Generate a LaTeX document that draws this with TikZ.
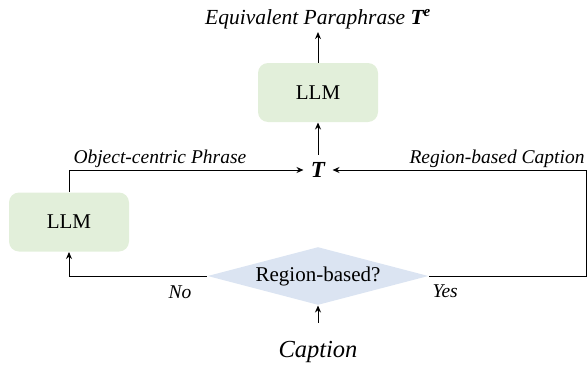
\documentclass[tikz,border=0pt]{standalone}
\usepackage{fontspec}
\setmainfont{Liberation Serif}
\usepackage{xcolor}
\usetikzlibrary{shapes.geometric,arrows.meta,positioning}

\definecolor{llmgreen}{RGB}{226,239,218}
\definecolor{askblue}{RGB}{219,228,242}

\begin{document}
\begin{tikzpicture}[x=1pt,y=-1pt,
    >={Stealth[length=7pt,width=6pt]},
    every path/.style={line width=1pt},
    llmbox/.style={rectangle, rounded corners=10pt, fill=llmgreen,
        minimum width=120pt, minimum height=59pt, font=\fontsize{21}{24}\selectfont},
    askbox/.style={diamond, aspect=3.8, inner sep=0pt, fill=askblue,
        minimum width=221pt, minimum height=58pt, font=\fontsize{21}{24}\selectfont},
    lab/.style={font=\itshape\fontsize{19.5}{22}\selectfont, inner sep=0pt},
    biglab/.style={font=\itshape\fontsize{21.5}{25}\selectfont}]
\useasboundingbox (0,0) rectangle (587,367);

% Boxes
\node[llmbox] (llmtop) at (318,92.5) {LLM};
\node[llmbox] (llmleft) at (69,222) {LLM};
\node[askbox] (ask) at (318,276) {Region-based?};

% Texts
\node[font=\bfseries\itshape\fontsize{23}{26}\selectfont, inner sep=7pt] (t) at (318,170) {T};
\node[biglab, inner sep=3pt, anchor=base] (para) at (318,24) {Equivalent Paraphrase \textbf{T\textsuperscript{e}}};
\node[font=\itshape\fontsize{24.5}{28}\selectfont, anchor=base] (cap) at (318,357) {Caption};
\coordinate (corner) at (586,276);

% Arrows
\draw[->] (llmtop.north) -- (para.south);
\draw[->] (t.north) -- (llmtop.south);
\draw[->] (cap.north) ++(0,-14) -- (ask.south);
\draw[->] (ask.west) -| (llmleft.south);
\draw[->] (llmleft.north) |- (t.west);
\draw[->] (ask.east) -- (corner) |- (t.east);

% Labels
\node[lab, anchor=base west] (objlab) at (73,163) {Object-centric Phrase};
\node[lab, anchor=base east] (reglab) at (585,163) {Region-based Caption};
\node[lab, anchor=base west] (nolab) at (168,298) {No};
\node[lab, anchor=base west] (yeslab) at (432,297) {Yes};
\end{tikzpicture}
\end{document}
